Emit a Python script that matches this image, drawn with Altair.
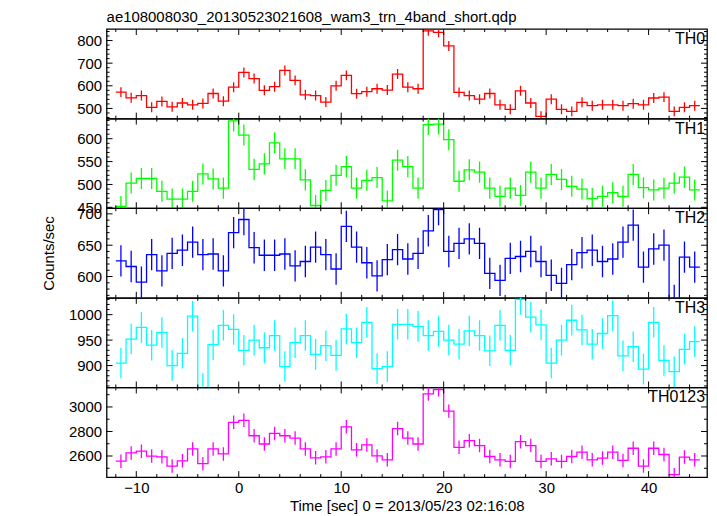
import altair as alt
import pandas as pd

FONT = "Liberation Sans"
title_text = "ae108008030_20130523021608_wam3_trn_4band_short.qdp"
x_title = "Time [sec] 0 = 2013/05/23 02:16:08"
y_title = "Counts/sec"

# one-second bins, start times
bin_start = list(range(-12, 45))
bin_end = 45

names = ["TH0", "TH1", "TH2", "TH3", "TH0123"]
colors = ["#ff0000", "#00ff00", "#0000ff", "#00ffff", "#ff00ff"]

th0 = [572, 547, 557, 505, 531, 507, 524, 516, 522, 566,
       532, 594, 659, 632, 580, 596, 668, 624, 560, 557,
       528, 600, 646, 565, 574, 587, 581, 652, 594, 587,
       843, 836, 776, 571, 557, 541, 566, 516, 496, 578,
       524, 465, 541, 496, 487, 527, 512, 516, 516, 512,
       521, 516, 546, 550, 487, 505, 512]
th1 = [452, 503, 513, 513, 485, 468, 468, 485, 523, 512,
       492, 639, 608, 533, 545, 591, 556, 556, 510, 454,
       487, 520, 539, 492, 509, 515, 464, 553, 539, 492,
       631, 632, 598, 507, 532, 527, 492, 474, 492, 476,
       527, 492, 522, 511, 496, 490, 469, 474, 482, 474,
       522, 493, 488, 492, 503, 516, 488]
th2 = [625, 616, 591, 635, 609, 637, 642, 655, 635, 636,
       609, 670, 691, 646, 634, 634, 636, 617, 624, 647,
       635, 612, 680, 647, 622, 601, 627, 643, 628, 637,
       673, 707, 640, 653, 660, 653, 605, 594, 629, 632,
       640, 624, 602, 589, 619, 638, 642, 624, 628, 655,
       682, 615, 644, 650, 562, 631, 615]
th3 = [905, 952, 975, 940, 965, 900, 924, 997, 855, 941,
       979, 971, 930, 950, 935, 959, 898, 945, 959, 922,
       939, 920, 972, 945, 985, 894, 898, 981, 981, 977,
       959, 967, 950, 942, 968, 959, 929, 979, 930, 1030,
       995, 980, 905, 950, 989, 970, 942, 963, 998, 919,
       937, 893, 985, 910, 888, 932, 947]
th0123 = [2558, 2625, 2639, 2599, 2593, 2518, 2561, 2658, 2537, 2658,
          2617, 2875, 2891, 2765, 2698, 2784, 2765, 2746, 2658, 2585,
          2593, 2658, 2838, 2650, 2690, 2601, 2569, 2824, 2746, 2698,
          3106, 3141, 2966, 2671, 2725, 2685, 2596, 2569, 2556, 2717,
          2685, 2556, 2577, 2556, 2596, 2631, 2569, 2583, 2631, 2564,
          2663, 2518, 2663, 2612, 2448, 2591, 2569]
series = [th0, th1, th2, th3, th0123]
errors = [22, 23, 25, 30, 55]

y_domains = [[455, 851], [448, 644], [566, 709], [857, 1033], [2428, 3159]]
y_major = [[500, 600, 700, 800], [450, 500, 550, 600], [600, 650, 700],
           [900, 950, 1000], [2600, 2800, 3000]]
y_minor = [[460, 480, 520, 540, 560, 580, 620, 640, 660, 680, 720, 740, 760, 780, 820, 840],
           [460, 470, 480, 490, 510, 520, 530, 540, 560, 570, 580, 590, 610, 620, 630, 640],
           [570, 580, 590, 610, 620, 630, 640, 660, 670, 680, 690],
           [860, 870, 880, 890, 910, 920, 930, 940, 960, 970, 980, 990, 1010, 1020, 1030],
           [2500, 2700, 2900, 3100]]
x_major = [-10, 0, 10, 20, 30, 40]
x_minor = [-12, -8, -6, -4, -2, 2, 4, 6, 8, 12, 14, 16, 18, 22, 24, 26, 28,
           32, 34, 36, 38, 42, 44]
x_domain = [-12.9, 45.7]

W, H = 603, 90
MAJ, MIN = 6, 3
LW = 1.3

panels = []
for i, name in enumerate(names):
    vals = series[i]
    color = colors[i]
    xs = alt.Scale(domain=x_domain, nice=False, zero=False)
    ys = alt.Scale(domain=y_domains[i], nice=False, zero=False)
    last = i == len(names) - 1
    if last:
        xaxis = alt.Axis(values=x_major, ticks=False, domain=False, grid=False,
                         format="d", labelFontSize=15, labelPadding=3,
                         labelColor="black", title=x_title, titleFontSize=15,
                         titleFontWeight="normal", titlePadding=4,
                         titleColor="black", labelFlush=False)
    else:
        xaxis = None
    yaxis = alt.Axis(values=y_major[i], ticks=False, domain=False, grid=False,
                     format="d", labelFontSize=15, labelPadding=5, labelColor="black",
                     title=(y_title if i == 2 else None), titleFontSize=15,
                     titleFontWeight="normal", titlePadding=20, titleColor="black")

    def X(f):
        return alt.X(f, scale=xs, axis=xaxis)

    def Y(f):
        return alt.Y(f, scale=ys, axis=yaxis)

    step_df = pd.DataFrame({"t": bin_start + [bin_end], "rate": vals + [vals[-1]]})
    err_df = pd.DataFrame({
        "t": [t + 0.5 for t in bin_start],
        "rate": [v - errors[i] for v in vals],
        "hi": [v + errors[i] for v in vals],
    })

    line = alt.Chart(step_df).mark_line(
        interpolate="step-after", color=color, strokeWidth=LW, clip=True
    ).encode(x=X("t:Q"), y=Y("rate:Q"))
    ebar = alt.Chart(err_df).mark_rule(color=color, strokeWidth=LW, clip=True).encode(
        x=X("t:Q"), y=Y("rate:Q"), y2="hi:Q")

    def rules_x(vals_, L, bottom):
        d = pd.DataFrame({"t": vals_})
        y0 = H if bottom else 0
        y1 = H - L if bottom else L
        return alt.Chart(d).mark_rule(color="black", strokeWidth=1).encode(
            x=X("t:Q"), y=alt.value(y0), y2=alt.value(y1))

    def rules_y(vals_, L, right):
        d = pd.DataFrame({"rate": vals_})
        x0 = W if right else 0
        x1 = W - L if right else L
        return alt.Chart(d).mark_rule(color="black", strokeWidth=1).encode(
            y=Y("rate:Q"), x=alt.value(x0), x2=alt.value(x1))

    label = alt.Chart(pd.DataFrame({"lab": [name]})).mark_text(
        align="right", baseline="middle", fontSize=16, color="black"
    ).encode(x=alt.value(W - 2), y=alt.value(10), text="lab:N")

    layers = [line, ebar,
              rules_x(x_major, MAJ, False), rules_x(x_minor, MIN, False),
              rules_x(x_major, MAJ, True), rules_x(x_minor, MIN, True),
              rules_y(y_major[i], MAJ, False), rules_y(y_minor[i], MIN, False),
              rules_y(y_major[i], MAJ, True), rules_y(y_minor[i], MIN, True),
              label]
    p = alt.layer(*layers).properties(width=W, height=H)
    if i == 0:
        p = p.properties(title=alt.TitleParams(
            title_text, anchor="start", frame="group", fontSize=15,
            fontWeight="normal", offset=4, color="black"))
    panels.append(p)

chart = alt.vconcat(*panels, spacing=0, bounds="flush").properties(
    padding={"left": 33, "top": -1, "right": 0, "bottom": 0}
).configure(font=FONT).configure_view(stroke="black", strokeWidth=1.3)

chart.save("out.html", embed_options={"renderer": "svg", "actions": False})
